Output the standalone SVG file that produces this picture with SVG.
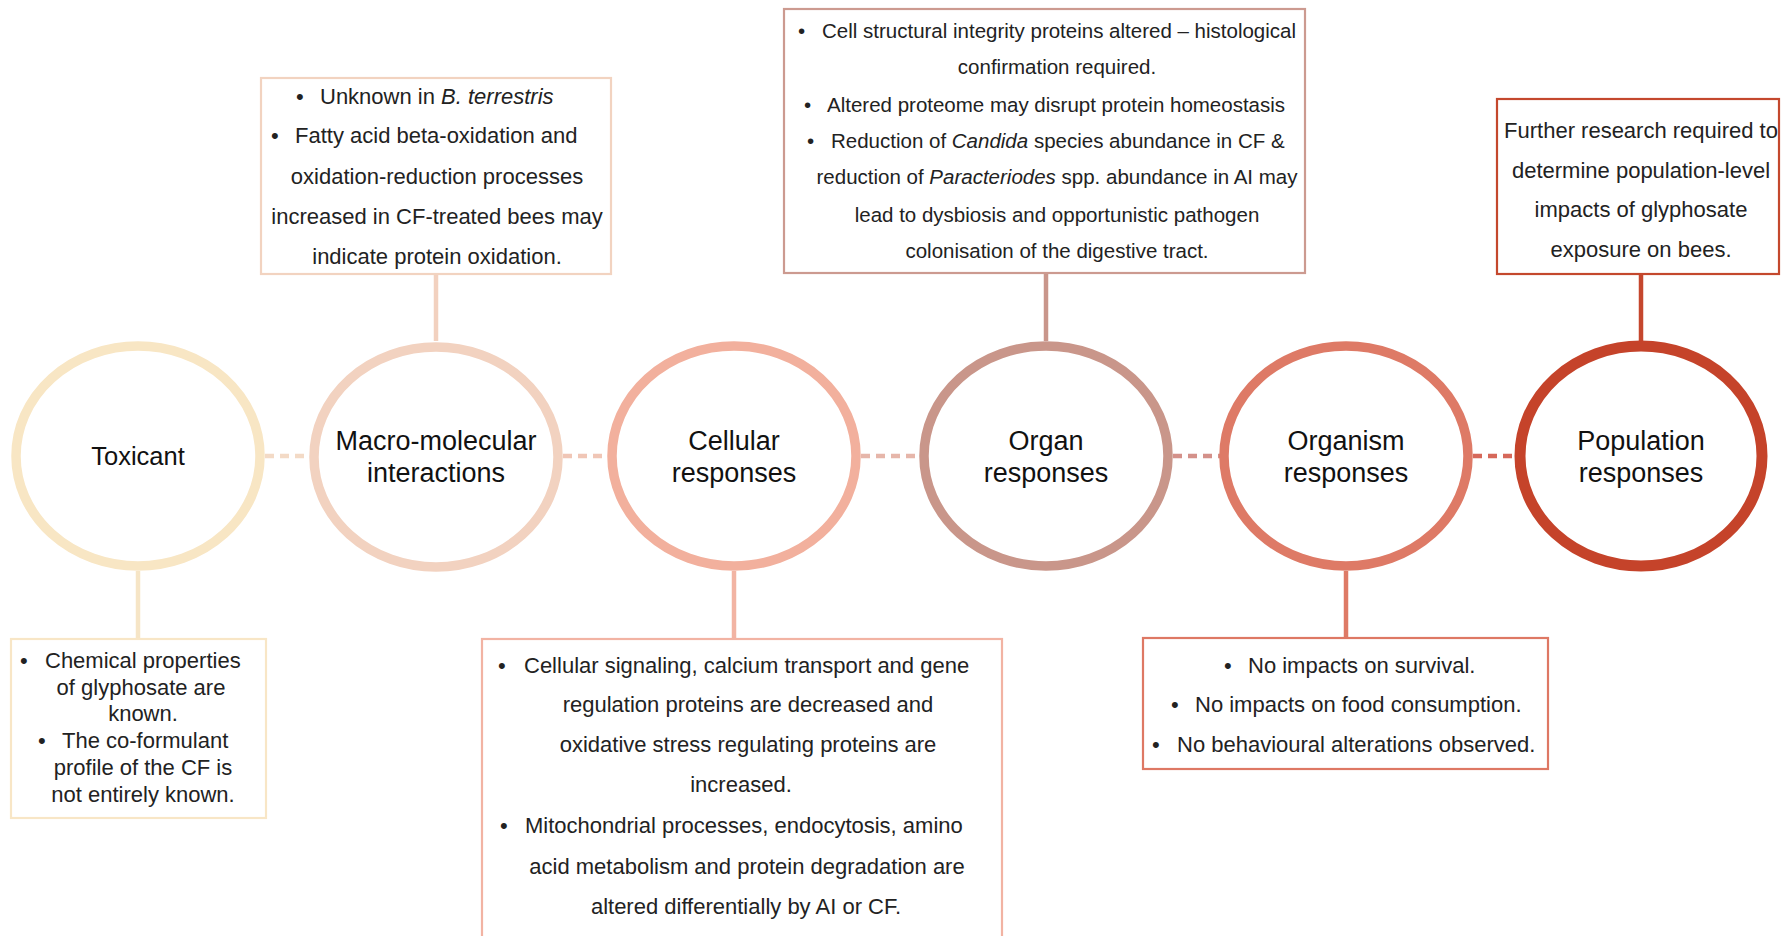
<svg xmlns="http://www.w3.org/2000/svg" width="1782" height="936" viewBox="0 0 1782 936">
<style>
.ring{fill:#fff;stroke-width:9.5}
.box{fill:#fff;stroke-width:2.2}
.lbl{font-family:"Liberation Sans",Arial,sans-serif;font-size:27px;fill:#111;text-anchor:middle}
.t{font-family:"Liberation Sans",Arial,sans-serif;font-size:22px;fill:#222}
.t2{font-family:"Liberation Sans",Arial,sans-serif;font-size:20.5px;fill:#222}
.m{text-anchor:middle}
.dash{stroke-width:4.5;stroke-dasharray:9 6;fill:none}
.v{stroke-width:4.5;fill:none}
</style>
<rect width="1782" height="936" fill="#fff"/>
<g id="connectors">
<line class="dash" x1="265" y1="456" x2="310" y2="456" stroke="#F3DAC6"/>
<line class="dash" x1="563" y1="456" x2="608" y2="456" stroke="#F0C6B6"/>
<line class="dash" x1="861" y1="456" x2="920" y2="456" stroke="#E6B6AA"/>
<line class="dash" x1="1173" y1="456" x2="1220" y2="456" stroke="#D4918A"/>
<line class="dash" x1="1473" y1="456" x2="1514" y2="456" stroke="#D6685A"/>
<line class="v" x1="138" y1="571" x2="138" y2="639" stroke="#F6E5C6"/>
<line class="v" x1="436" y1="274" x2="436" y2="341" stroke="#F2D1BF"/>
<line class="v" x1="734" y1="571" x2="734" y2="639" stroke="#F2B4A3"/>
<line class="v" x1="1046" y1="273" x2="1046" y2="341" stroke="#C9968B"/>
<line class="v" x1="1346" y1="571" x2="1346" y2="638" stroke="#DE7A66"/>
<line class="v" x1="1641" y1="274" x2="1641" y2="341" stroke="#C5472D"/>
</g>
<g id="toxicant">
<ellipse class="ring" cx="138" cy="456" rx="122" ry="110" stroke="#F8E6C4"/>
<text class="lbl" x="138" y="465" style="font-size:25.5px">Toxicant</text>
</g>
<g id="macro">
<ellipse class="ring" cx="436" cy="457" rx="122" ry="110" stroke="#F2D2C0"/>
<text class="lbl" x="436" y="450">Macro-molecular</text>
<text class="lbl" x="436" y="482">interactions</text>
</g>
<g id="cellular">
<ellipse class="ring" cx="734" cy="456" rx="122" ry="110" stroke="#F2B09D"/>
<text class="lbl" x="734" y="450">Cellular</text>
<text class="lbl" x="734" y="482">responses</text>
</g>
<g id="organ">
<ellipse class="ring" cx="1046" cy="456" rx="122" ry="110" stroke="#C9968A"/>
<text class="lbl" x="1046" y="450">Organ</text>
<text class="lbl" x="1046" y="482">responses</text>
</g>
<g id="organism">
<ellipse class="ring" cx="1346" cy="456" rx="122" ry="110" stroke="#DE7A66"/>
<text class="lbl" x="1346" y="450">Organism</text>
<text class="lbl" x="1346" y="482">responses</text>
</g>
<g id="population">
<ellipse class="ring" cx="1641" cy="456" rx="121" ry="110" stroke="#C5432A" style="stroke-width:11"/>
<text class="lbl" x="1641" y="450">Population</text>
<text class="lbl" x="1641" y="482">responses</text>
</g>
<g id="macro-box">
<rect class="box" x="261" y="78" width="350" height="196" stroke="#F2D3C0"/>
<text class="t" x="296" y="104">•</text>
<text class="t" x="320" y="104">Unknown  in <tspan font-style="italic">B. terrestris</tspan></text>
<text class="t" x="271" y="143">•</text>
<text class="t" x="295" y="143">Fatty acid beta-oxidation and</text>
<text class="t m" x="437" y="184">oxidation-reduction processes</text>
<text class="t m" x="437" y="224">increased in CF-treated bees may</text>
<text class="t m" x="437" y="264">indicate protein oxidation.</text>
</g>
<g id="organ-box">
<rect class="box" x="784" y="9" width="521" height="264" stroke="#CC9A90"/>
<text class="t2" x="798" y="38">•</text>
<text class="t2" x="822" y="38">Cell structural integrity proteins altered – histological</text>
<text class="t2 m" x="1057" y="74">confirmation required.</text>
<text class="t2" x="804" y="112">•</text>
<text class="t2" x="827" y="112">Altered proteome may disrupt protein homeostasis</text>
<text class="t2" x="807" y="148">•</text>
<text class="t2" x="831" y="148">Reduction of <tspan font-style="italic">Candida</tspan> species abundance in CF &amp;</text>
<text class="t2 m" x="1057" y="184">reduction of <tspan font-style="italic">Paracteriodes</tspan> spp. abundance in AI may</text>
<text class="t2 m" x="1057" y="222">lead to dysbiosis and opportunistic pathogen</text>
<text class="t2 m" x="1057" y="258">colonisation of the digestive tract.</text>
</g>
<g id="population-box">
<rect class="box" x="1497" y="99" width="282" height="175" stroke="#C4482D"/>
<text class="t m" x="1641" y="138">Further research required to</text>
<text class="t m" x="1641" y="178">determine population-level</text>
<text class="t m" x="1641" y="217">impacts of glyphosate</text>
<text class="t m" x="1641" y="257">exposure on bees.</text>
</g>
<g id="toxicant-box">
<rect class="box" x="11" y="639" width="255" height="179" stroke="#F8E6C6"/>
<text class="t" x="20" y="668">•</text>
<text class="t" x="45" y="668">Chemical properties</text>
<text class="t m" x="141" y="695">of glyphosate are</text>
<text class="t m" x="143" y="721">known.</text>
<text class="t" x="38" y="748">•</text>
<text class="t" x="62" y="748">The co-formulant</text>
<text class="t m" x="143" y="775">profile of the CF is</text>
<text class="t m" x="143" y="802">not entirely known.</text>
</g>
<g id="cellular-box">
<rect class="box" x="482" y="639" width="520" height="310" stroke="#F2B3A3"/>
<text class="t" x="498" y="673">•</text>
<text class="t" x="524" y="673">Cellular signaling, calcium transport and gene</text>
<text class="t m" x="748" y="712">regulation proteins are decreased and</text>
<text class="t m" x="748" y="752">oxidative stress regulating proteins are</text>
<text class="t m" x="741" y="792">increased.</text>
<text class="t" x="500" y="833">•</text>
<text class="t" x="525" y="833">Mitochondrial processes, endocytosis, amino</text>
<text class="t m" x="747" y="874">acid metabolism and protein degradation are</text>
<text class="t m" x="746" y="914">altered differentially by AI or CF.</text>
</g>
<g id="organism-box">
<rect class="box" x="1143" y="638" width="405" height="131" stroke="#DE7864"/>
<text class="t" x="1224" y="673">•</text>
<text class="t" x="1248" y="673">No impacts on survival.</text>
<text class="t" x="1171" y="712">•</text>
<text class="t" x="1195" y="712">No impacts on food consumption.</text>
<text class="t" x="1152" y="752">•</text>
<text class="t" x="1177" y="752">No behavioural alterations observed.</text>
</g>
</svg>
